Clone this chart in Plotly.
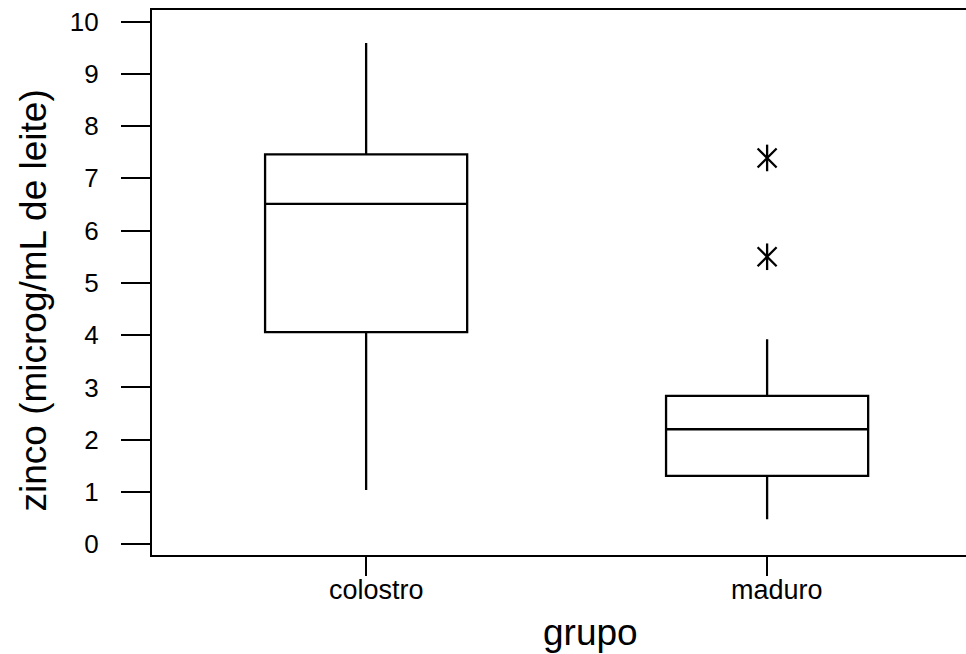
import plotly.graph_objects as go

categories = ["colostro", "maduro"]
q1 = [4.06, 1.31]
median = [6.51, 2.20]
q3 = [7.46, 2.84]
lower_whisker = [1.04, 0.48]
upper_whisker = [9.59, 3.92]
outlier_x = ["maduro", "maduro"]
outlier_y = [7.39, 5.50]
y_ticks = list(range(0, 11))
x_title = "grupo"
y_title = "zinco (microg/mL de leite)"

FONT = "Liberation Sans, Arial, Helvetica, sans-serif"
LW = 2.3

fig = go.Figure()
fig.add_trace(go.Box(
    x=categories, q1=q1, median=median, q3=q3,
    lowerfence=lower_whisker, upperfence=upper_whisker,
    width=0.504, whiskerwidth=0, boxpoints=False,
    line=dict(color="black", width=LW), fillcolor="white",
    showlegend=False,
))
# Minitab-style six-armed asterisk: vertical bar + two diagonals
fig.add_trace(go.Scatter(
    x=outlier_x, y=outlier_y, mode="markers",
    marker=dict(symbol="line-ns-open", size=19, color="black",
                line=dict(color="black", width=LW)),
    showlegend=False, hoverinfo="skip",
))
fig.add_trace(go.Scatter(
    x=outlier_x, y=outlier_y, mode="markers",
    marker=dict(symbol="x-thin-open", size=19, color="black",
                line=dict(color="black", width=LW)),
    showlegend=False,
))

# category labels (slightly right of the ticks, as in the original)
for c in categories:
    fig.add_annotation(
        x=c, xref="x", y=0, yref="paper", xanchor="center", yanchor="top",
        xshift=10, yshift=-18, showarrow=False, text=c,
        font=dict(size=27, family=FONT, color="black"),
    )
fig.add_annotation(
    x=0.5, xref="paper", y=0, yref="paper", xanchor="center", yanchor="top",
    xshift=31, yshift=-55, showarrow=False, text=x_title,
    font=dict(size=37, family=FONT, color="black"),
)
fig.add_annotation(
    x=0, xref="paper", y=0.5, yref="paper", xanchor="center", yanchor="middle",
    xshift=-119, yshift=-18, showarrow=False, text=y_title, textangle=-90,
    font=dict(size=37, family=FONT, color="black"),
)

fig.update_layout(
    width=966, height=654,
    margin=dict(l=152, r=0, t=10, b=99),
    paper_bgcolor="white", plot_bgcolor="white",
    font=dict(family=FONT, color="black"),
    xaxis=dict(
        type="category", range=[-0.534, 1.496],
        showline=True, linecolor="black", linewidth=LW, mirror=True,
        ticks="outside", ticklen=19, tickwidth=LW, tickcolor="black",
        showgrid=False, zeroline=False, showticklabels=False,
    ),
    yaxis=dict(
        range=[-0.205, 10.22], tickvals=y_ticks,
        showline=True, linecolor="black", linewidth=LW, mirror=False,
        ticks="outside", ticklen=29, tickwidth=LW, tickcolor="black",
        showgrid=False, zeroline=False,
        tickfont=dict(size=26, family=FONT), ticklabelstandoff=17,
        ticklabeloverflow="allow",
    ),
)

fig.write_html("out.html", config={"displayModeBar": False},
               post_script="document.body.style.margin='0px';")
